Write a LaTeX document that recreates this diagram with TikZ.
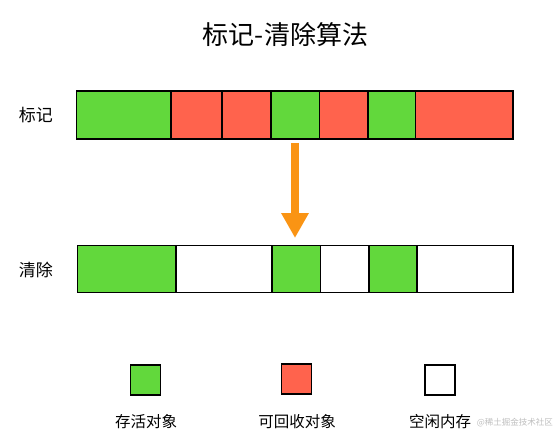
\documentclass[tikz,border=0pt]{standalone}
\usepackage{fontspec}
\setmainfont{Noto Sans CJK SC}
\usetikzlibrary{arrows.meta}
\definecolor{livegreen}{HTML}{62D83C}
\definecolor{deadred}{HTML}{FF634D}
\definecolor{arroworange}{HTML}{FA9414}
\tikzset{
  seg/.style={draw=black, line width=1.6pt, inner sep=0pt, anchor=north west, minimum height=48.5pt},
  segb/.style={seg, minimum height=47pt},
  legendbox/.style={draw=black, line width=1.4pt, inner sep=0pt, minimum width=30pt, minimum height=30pt},
  rowlabel/.style={font=\fontsize{17}{20}\selectfont, inner sep=0pt},
  legendlabel/.style={font=\fontsize{15.5}{18}\selectfont, inner sep=0pt},
}
\begin{document}
\begin{tikzpicture}[x=1pt, y=-1pt]
\useasboundingbox (0,0) rectangle (555,444);
\fill[white] (0,0) rectangle (555,444);
% title
\node[font=\fontsize{26}{30}\selectfont, inner sep=0pt] (title) at (285.5,35) {标记-清除算法};
% row labels
\node[rowlabel] (lmark) at (36,115.5) {标记};
\node[rowlabel] (lsweep) at (36,270) {清除};
% top bar
\node[seg, fill=livegreen, minimum width=94.5pt] (t1) at (75.5,90) {};
\node[seg, fill=deadred, minimum width=51pt] (t2) at (170,90) {};
\node[seg, fill=deadred, minimum width=49pt] (t3) at (221,90) {};
\node[seg, fill=livegreen, minimum width=48.5pt] (t4) at (270,90) {};
\node[seg, fill=deadred, minimum width=48.5pt] (t5) at (318.5,90) {};
\node[seg, fill=livegreen, minimum width=47.5pt] (t6) at (367,90) {};
\node[seg, fill=deadred, minimum width=97.5pt] (t7) at (414.5,90) {};
% bottom bar
\node[segb, fill=livegreen, minimum width=98.5pt] (b1) at (76.5,244.5) {};
\node[segb, fill=white, minimum width=96pt] (b2) at (175,244.5) {};
\node[segb, fill=livegreen, minimum width=48.5pt] (b3) at (271,244.5) {};
\node[segb, fill=white, minimum width=48.5pt] (b4) at (319.5,244.5) {};
\node[segb, fill=livegreen, minimum width=48pt] (b5) at (368,244.5) {};
\node[segb, fill=white, minimum width=96pt] (b6) at (416,244.5) {};
% arrow
\coordinate (astart) at (295,143);
\coordinate (aend) at (295,238);
\draw[arroworange, line width=8pt, -{Triangle[width=26pt,length=25pt]}] (astart) -- (aend);
% legend
\node[legendbox, fill=livegreen] (k1) at (145.5,380) {};
\node[legendbox, fill=deadred] (k2) at (296.5,379) {};
\node[legendbox, fill=white] (k3) at (440,380) {};
\node[legendlabel] (kl1) at (146,421.5) {存活对象};
\node[legendlabel] (kl2) at (297,421.5) {可回收对象};
\node[legendlabel] (kl3) at (440,421.5) {空闲内存};
\node[font=\fontsize{8.5}{10}\selectfont, text=black!25, inner sep=0pt, anchor=east] (wm) at (553,423) {@稀土掘金技术社区};
\end{tikzpicture}
\end{document}
